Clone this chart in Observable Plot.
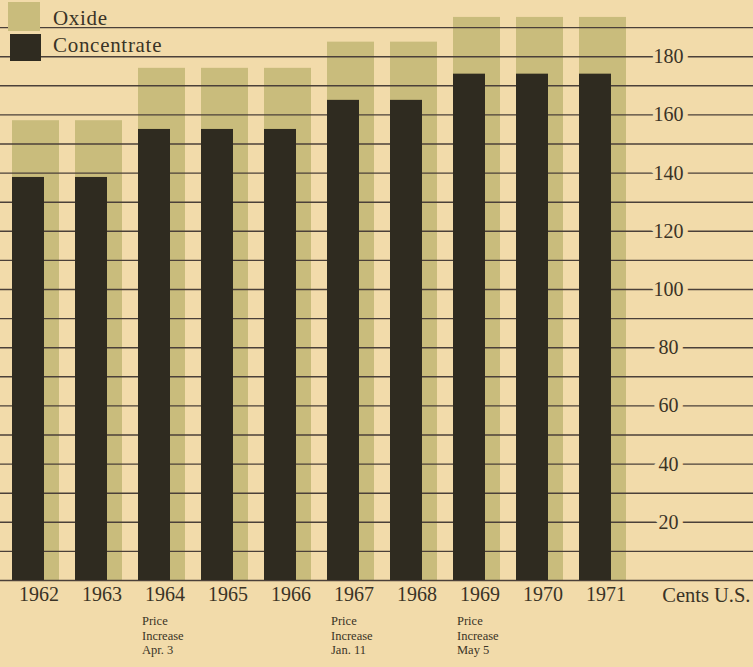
<!DOCTYPE html>
<html>
<head>
<meta charset="utf-8">
<script src="https://cdn.jsdelivr.net/npm/d3@7"></script>
<script src="https://cdn.jsdelivr.net/npm/@observablehq/plot@0.6"></script>
<style>
  html, body { margin: 0; padding: 0; background: #f2dbaa; }
  #wrap { position: relative; width: 753px; height: 667px; overflow: hidden; }
  #legend { position: absolute; left: 0; top: 0; font-family: "Liberation Serif", serif; font-size: 21px; letter-spacing: 0.7px; color: #3a3326; }
  .sw { position: absolute; }
  .lab { position: absolute; white-space: nowrap; }
</style>
</head>
<body>
<div id="wrap"></div>
<script>
// Yearly price of molybdenum products, cents U.S. per pound
const years = [1962, 1963, 1964, 1965, 1966, 1967, 1968, 1969, 1970, 1971];
const oxide = [158, 158, 176, 176, 176, 185, 185, 193.5, 193.5, 193.5];
const concentrate = [138.5, 138.5, 155, 155, 155, 165, 165, 174, 174, 174];
const gridValues = d3.range(0, 201, 10);
const tickValues = [20, 40, 60, 80, 100, 120, 140, 160, 180];
const unitLabel = "Cents U.S.";
const notes = [
  {year: 1964, text: "Price\nIncrease\nApr. 3"},
  {year: 1967, text: "Price\nIncrease\nJan. 11"},
  {year: 1969, text: "Price\nIncrease\nMay 5"}
];
const series = [
  {name: "Oxide", color: "#c9bc7c"},
  {name: "Concentrate", color: "#2f2b20"}
];

const bg = "#f2dbaa";
const ink = "#3a3326";
const lineColor = "#4b4039";

const rows = years.map((year, i) => ({year, oxide: oxide[i], concentrate: concentrate[i]}));

const chart = Plot.plot({
  width: 753,
  height: 667,
  marginTop: 0,
  marginLeft: 0,
  marginRight: 0,
  marginBottom: 87,
  style: {background: bg, fontFamily: "Liberation Serif, serif", color: ink},
  x: {type: "band", domain: years, range: [12, 626], paddingInner: 0.254, paddingOuter: 0, align: 0},
  y: {domain: [0, 200], range: [580, -2]},
  marks: [
    Plot.barY(rows, {x: "year", y: "oxide", fill: series[0].color}),
    Plot.ruleY(gridValues, {stroke: lineColor, strokeWidth: 1.4}),
    Plot.barY(rows, {x: "year", y: "concentrate", fill: series[1].color, insetRight: 15}),
    Plot.text(tickValues, {
      y: d => d, text: d => String(d), frameAnchor: "right", dx: -85,
      textAnchor: "middle", fontSize: 20, fill: ink,
      stroke: bg, strokeWidth: 10, paintOrder: "stroke", strokeLinejoin: "round"
    }),
    Plot.axisX({tickSize: 0, tickPadding: 6, fontSize: 20, dx: 3, color: ink, label: null, tickFormat: d => String(d)}),
    Plot.text([unitLabel], {
      text: d => d, frameAnchor: "bottom-right", dx: -3, dy: 15,
      textAnchor: "end", lineAnchor: "middle", fontSize: 20.5, letterSpacing: 0.6, fill: ink
    }),
    Plot.text(notes, {
      x: "year", text: "text", frameAnchor: "bottom", textAnchor: "start",
      lineAnchor: "top", dx: -20, dy: 34, fontSize: 12.5, lineHeight: 1.18, fill: ink
    })
  ]
});

const wrap = document.getElementById("wrap");
wrap.appendChild(chart);

// Key drawn over the top gridline rows
const legend = document.createElement("div");
legend.id = "legend";
const swatchBoxes = [
  {left: 8, top: 2, width: 32, height: 29},
  {left: 10, top: 34, width: 31, height: 27}
];
const labelTops = [6, 33];
series.forEach((s, i) => {
  const sw = document.createElement("div");
  sw.className = "sw";
  const b = swatchBoxes[i];
  Object.assign(sw.style, {left: b.left + "px", top: b.top + "px", width: b.width + "px", height: b.height + "px", background: s.color});
  legend.appendChild(sw);
  const lab = document.createElement("div");
  lab.className = "lab";
  lab.textContent = s.name;
  Object.assign(lab.style, {left: "53px", top: labelTops[i] + "px"});
  legend.appendChild(lab);
});
wrap.appendChild(legend);
</script>
</body>
</html>
